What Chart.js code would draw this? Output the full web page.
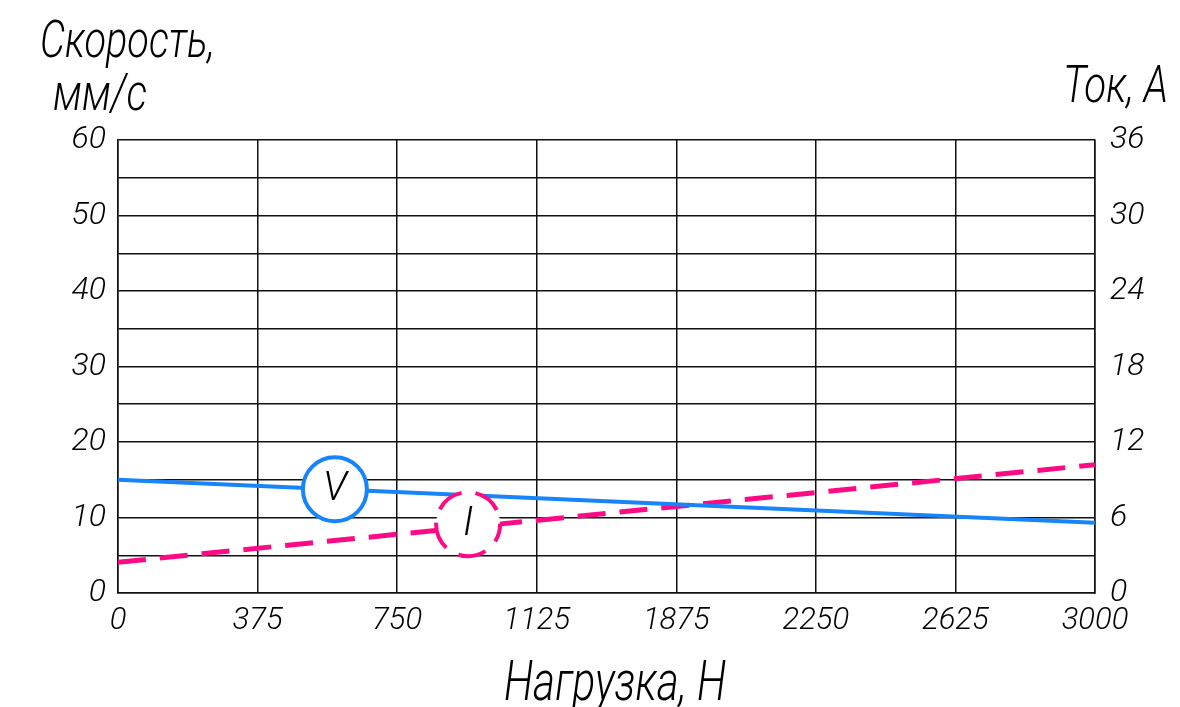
<!DOCTYPE html>
<html>
<head>
<meta charset="utf-8">
<script src="https://cdn.jsdelivr.net/npm/chart.js@4"></script>
<style>
  html, body { margin: 0; background: #fff; }
  #wrap { width: 1180px; height: 707px; }
</style>
</head>
<body>
<div id="wrap"><canvas id="chart"></canvas></div>
<script>
// --- Data ---
const xTickLabels = ['0', '375', '750', '1125', '1875', '2250', '2625', '3000'];
const loads = [0, 3000];          // Нагрузка, Н
const speed = [15, 9.3];          // Скорость, мм/с
const current = [2.45, 10.2];     // Ток, А
const markerLoads = [666, 1075];  // where the V / I circles sit on their lines
const FONT = 'Roboto, "Noto Sans", sans-serif';
const BLUE = '#1784fa', PINK = '#ff0a85';

function toPoints(xs, ys) {
  return xs.map((x, i) => ({ x: x, y: ys[i] }));
}

// value on a straight series at a given load
function valueAt(ys, load) {
  return ys[0] + (ys[1] - ys[0]) * (load - loads[0]) / (loads[1] - loads[0]);
}

// draw text squeezed/stretched horizontally to a given width
function drawFit(ctx, text, x, y, size, width, align) {
  ctx.font = 'italic 300 ' + size + 'px ' + FONT;
  const w = ctx.measureText(text).width;
  const k = width / w;
  let left = x;
  if (align === 'right') left = x - width;
  if (align === 'center') left = x - width / 2;
  ctx.save();
  ctx.translate(left, y);
  ctx.scale(k, 1);
  ctx.textAlign = 'left';
  ctx.textBaseline = 'alphabetic';
  ctx.fillText(text, 0, 0);
  ctx.restore();
}

const labelsPlugin = {
  id: 'labels',
  afterDatasetsDraw(chart) {
    const ctx = chart.ctx;
    const x = chart.scales.x, y = chart.scales.y, y1 = chart.scales.y1;
    ctx.save();

    // V circle
    let cx = x.getPixelForValue(markerLoads[0]);
    let cy = y.getPixelForValue(valueAt(speed, markerLoads[0]));
    ctx.beginPath();
    ctx.arc(cx, cy, 32, 0, Math.PI * 2);
    ctx.fillStyle = '#fff';
    ctx.fill();
    ctx.lineWidth = 4;
    ctx.strokeStyle = BLUE;
    ctx.stroke();
    ctx.fillStyle = '#000';
    ctx.font = 'italic 300 40px ' + FONT;
    ctx.textAlign = 'center';
    ctx.textBaseline = 'middle';
    ctx.fillText('V', cx, cy + 1);

    // I circle (dashed)
    cx = x.getPixelForValue(markerLoads[1]);
    cy = y1.getPixelForValue(valueAt(current, markerLoads[1])) - 3;
    ctx.beginPath();
    ctx.arc(cx, cy, 32, 0, Math.PI * 2);
    ctx.fillStyle = '#fff';
    ctx.fill();
    ctx.setLineDash([28, 14]);
    ctx.lineDashOffset = 10;
    ctx.lineWidth = 4;
    ctx.strokeStyle = PINK;
    ctx.stroke();
    ctx.setLineDash([]);
    ctx.fillStyle = '#000';
    ctx.fillText('I', cx, cy + 1);

    // axis titles
    drawFit(ctx, 'Скорость,', 40, 57, 52, 175, 'left');
    drawFit(ctx, 'мм/с', 53, 110, 52, 94, 'left');
    drawFit(ctx, 'Ток, А', 1168, 102, 52, 105, 'right');
    drawFit(ctx, 'Нагрузка, Н', 615, 700, 56, 222, 'center');
    ctx.restore();
  }
};

const tickFont = size => ({ family: FONT, size: size, style: 'italic', weight: 300 });

new Chart(document.getElementById('chart'), {
  type: 'line',
  data: {
    datasets: [
      {
        label: 'V',
        data: toPoints(loads, speed),
        yAxisID: 'y',
        borderColor: BLUE,
        borderWidth: 4,
        pointRadius: 0,
        tension: 0
      },
      {
        label: 'I',
        data: toPoints(loads, current),
        yAxisID: 'y1',
        borderColor: PINK,
        borderWidth: 5,
        borderDash: [28, 14],
        pointRadius: 0,
        tension: 0
      }
    ]
  },
  options: {
    responsive: true,
    maintainAspectRatio: false,
    animation: false,
    layout: { padding: { top: 140, left: 0, right: 0, bottom: 0 } },
    plugins: {
      legend: { display: false },
      tooltip: { enabled: false }
    },
    scales: {
      x: {
        type: 'linear',
        min: 0,
        max: 3000,
        afterBuildTicks: s => { s.ticks = xTickLabels.map((l, i) => ({ value: i * 3000 / 7 })); },
        afterFit: s => { s.height = 114; },
        grid: { color: '#111', lineWidth: 1.5, drawTicks: false },
        border: { color: '#111', width: 1.5 },
        ticks: {
          autoSkip: false,
          maxRotation: 0,
          padding: 10,
          color: '#000',
          font: tickFont(31),
          callback: (v, i) => xTickLabels[i]
        }
      },
      y: {
        position: 'left',
        min: 0,
        max: 60,
        afterFit: s => { s.width = 118; },
        grid: { color: '#111', lineWidth: 1.5, drawTicks: false },
        border: { color: '#111', width: 1.5 },
        ticks: {
          stepSize: 5,
          autoSkip: false,
          padding: 12,
          color: '#000',
          font: tickFont(32),
          callback: v => (v % 10 === 0 ? v : '')
        }
      },
      y1: {
        position: 'right',
        min: 0,
        max: 36,
        afterFit: s => { s.width = 85; },
        grid: { display: false, drawTicks: false },
        border: { color: '#111', width: 1.5 },
        ticks: {
          stepSize: 6,
          padding: 15,
          color: '#000',
          font: tickFont(32)
        }
      }
    }
  },
  plugins: [labelsPlugin]
});
</script>
</body>
</html>
